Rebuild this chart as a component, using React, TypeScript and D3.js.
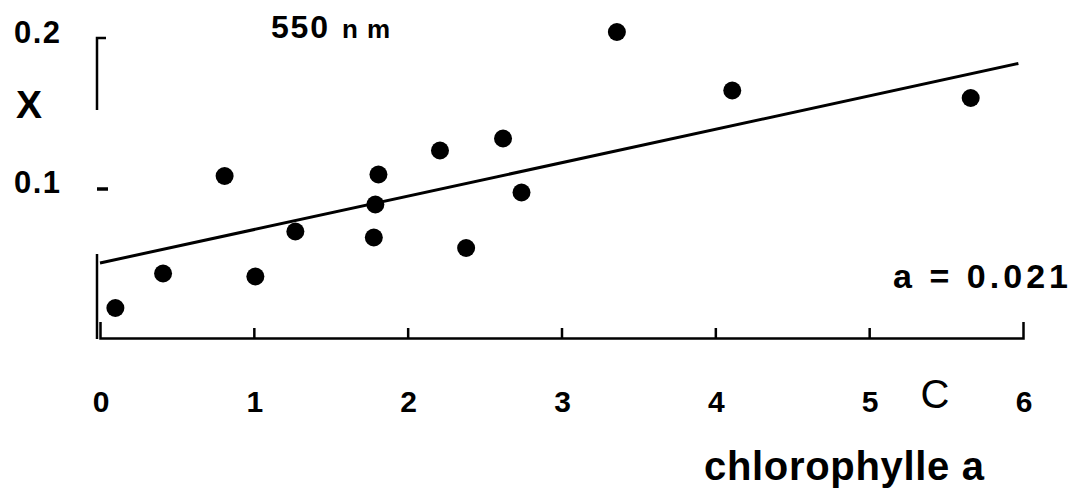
import React, { useRef, useEffect } from "react";
import * as d3 from "d3";

// chlorophylle a (x) vs X at 550 nm (y)
const chlA = [0.1, 0.41, 0.81, 1.01, 1.27, 1.78, 1.79, 1.81, 2.21, 2.38, 2.62, 2.74, 3.36, 4.11, 5.66];
const xVal = [0.02, 0.043, 0.108, 0.041, 0.071, 0.067, 0.089, 0.109, 0.125, 0.06, 0.133, 0.097, 0.204, 0.165, 0.16];

// fitted line end points
const fitX = [0, 5.97];
const fitY = [0.05, 0.183];

const xTicks = [0, 1, 2, 3, 4, 5, 6];
const yTicks = [0.1, 0.2];

const W = 1074;
const H = 496;

const App = () => {
  const ref = useRef<SVGSVGElement>(null);

  useEffect(() => {
    const svg = d3.select(ref.current);
    svg.selectAll("*").remove();

    const x = d3.scaleLinear().domain([0, 6]).range([100, 1023]);
    const y = d3.scaleLinear().domain([0, 0.2]).range([338, 38]);
    const font = "'Liberation Sans', Arial, sans-serif";

    // x axis, ticks pointing up
    const xa = svg
      .append("g")
      .attr("transform", `translate(0, ${y(0)})`)
      .call(
        d3
          .axisTop(x)
          .tickValues(xTicks.slice(1, -1))
          .tickSize(10)
          .tickSizeOuter(16)
          .tickFormat(() => "")
      );
    xa.select(".domain").attr("stroke", "#000").attr("stroke-width", 2.5);
    xa.selectAll(".tick line").attr("stroke", "#000").attr("stroke-width", 2.5);

    svg
      .selectAll(".xlab")
      .data(xTicks)
      .enter()
      .append("text")
      .attr("x", (d) => x(d) + 1)
      .attr("y", 412)
      .attr("text-anchor", "middle")
      .style("font", `bold 30px ${font}`)
      .text((d) => d);

    // y axis, drawn in pieces like the original
    const ax = x(0) - 3;
    svg
      .append("line")
      .attr("x1", ax).attr("x2", ax)
      .attr("y1", y(0) + 1).attr("y2", y(0.056))
      .attr("stroke", "#000").attr("stroke-width", 2.5);
    svg
      .append("path")
      .attr("d", `M${ax + 9},${y(0.2)}H${ax}V${y(0.152)}`)
      .attr("fill", "none")
      .attr("stroke", "#000").attr("stroke-width", 2.5);
    svg
      .append("line")
      .attr("x1", ax).attr("x2", ax + 11)
      .attr("y1", y(0.1) + 1).attr("y2", y(0.1) + 1)
      .attr("stroke", "#000").attr("stroke-width", 3.5);

    svg
      .selectAll(".ylab")
      .data(yTicks)
      .enter()
      .append("text")
      .attr("x", 37)
      .attr("y", (d) => y(d) + 5)
      .attr("text-anchor", "middle")
      .attr("textLength", 46)
      .attr("lengthAdjust", "spacing")
      .style("font", `bold 31px ${font}`)
      .text((d) => d.toFixed(1));

    // fitted line
    svg
      .append("path")
      .datum(fitX.map((v, i) => [v, fitY[i]] as [number, number]))
      .attr("d", d3.line().x((d) => x(d[0])).y((d) => y(d[1])))
      .attr("stroke", "#000")
      .attr("stroke-width", 3)
      .attr("fill", "none");

    // points
    svg
      .selectAll(".pt")
      .data(chlA)
      .enter()
      .append("circle")
      .attr("cx", (d) => x(d))
      .attr("cy", (d, i) => y(xVal[i]))
      .attr("r", 9)
      .attr("fill", "#000");

    // labels
    const txt = (s: string, tx: number, ty: number, f: string, len?: number, anchor = "start") => {
      const t = svg
        .append("text")
        .attr("x", tx)
        .attr("y", ty)
        .attr("text-anchor", anchor)
        .style("font", f)
        .text(s);
      if (len) t.attr("textLength", len).attr("lengthAdjust", "spacing");
      return t;
    };

    txt("X", 29, 118, `bold 39px ${font}`, undefined, "middle");
    txt("550", 271, 38, `bold 32px ${font}`, 57);
    txt("n m", 342, 38, `bold 26px ${font}`, 48);
    txt("a =  0.021", 893, 288, `bold 34px ${font}`, 175);
    txt("C", 935, 408, `40px ${font}`, undefined, "middle");
    txt("chlorophylle a", 704, 480, `bold 40px ${font}`, 280);
  }, []);

  return (
    <svg
      ref={ref}
      width={W}
      height={H}
      style={{ position: "absolute", left: 0, top: 0, background: "#fff" }}
    />
  );
};

export default App;
